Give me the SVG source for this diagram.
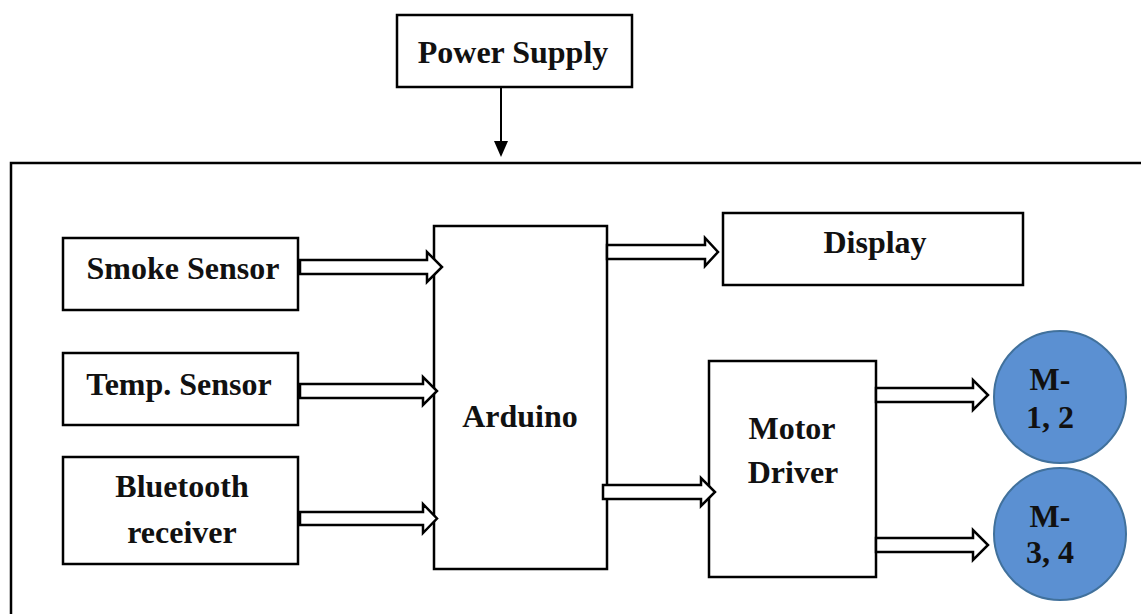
<svg xmlns="http://www.w3.org/2000/svg" width="1141" height="614" viewBox="0 0 1141 614">
  <style>
    .box { fill: #ffffff; stroke: #000000; stroke-width: 2.5; }
    .frame { fill: none; stroke: #000000; stroke-width: 2.5; }
    .lbl { font-family: "Liberation Serif", "Times New Roman", serif; font-weight: bold; font-size: 32px; fill: #111111; text-anchor: middle; }
    .motor { fill: #5B90D2; stroke: #41719C; stroke-width: 2; }
    .barrow { fill: #ffffff; stroke: #000000; stroke-width: 2.5; stroke-linejoin: miter; }
    .wire { stroke: #000000; stroke-width: 2; fill: none; }
  </style>
  <rect width="1141" height="614" fill="#ffffff"/>
  <g id="system-frame">
    <path class="frame" d="M 1145 163 L 11 163 L 11 620"/>
  </g>
  <g id="power-supply">
    <rect class="box" x="397" y="15" width="235" height="72"/>
    <text class="lbl" x="513" y="63">Power Supply</text>
  </g>
  <g id="smoke-sensor">
    <rect class="box" x="63" y="238" width="235" height="72"/>
    <text class="lbl" x="183" y="279">Smoke Sensor</text>
  </g>
  <g id="temp-sensor">
    <rect class="box" x="63" y="353" width="235" height="72"/>
    <text class="lbl" x="179" y="395">Temp. Sensor</text>
  </g>
  <g id="bluetooth-receiver">
    <rect class="box" x="63" y="457" width="235" height="107"/>
    <text class="lbl" x="182" y="497">Bluetooth</text>
    <text class="lbl" x="182" y="543">receiver</text>
  </g>
  <g id="arduino">
    <rect class="box" x="434" y="226" width="173" height="343"/>
    <text class="lbl" x="520" y="427">Arduino</text>
  </g>
  <g id="display">
    <rect class="box" x="723" y="213" width="300" height="72"/>
    <text class="lbl" x="875" y="253">Display</text>
  </g>
  <g id="motor-driver">
    <rect class="box" x="709" y="361" width="167" height="216"/>
    <text class="lbl" x="792" y="439">Motor</text>
    <text class="lbl" x="793" y="483">Driver</text>
  </g>
  <g id="motor-1-2">
    <circle class="motor" cx="1060" cy="397" r="66"/>
    <text class="lbl" x="1050" y="390">M-</text>
    <text class="lbl" x="1050" y="428">1, 2</text>
  </g>
  <g id="motor-3-4">
    <circle class="motor" cx="1060" cy="534" r="66"/>
    <text class="lbl" x="1050" y="527">M-</text>
    <text class="lbl" x="1050" y="563">3, 4</text>
  </g>
  <g id="connectors">
    <line class="wire" x1="501" y1="87" x2="501" y2="142"/>
    <polygon points="494,141 508,141 501,157" fill="#000000"/>
    <path class="barrow" d="M 300 260 L 427 260 L 427 252 L 442 267 L 427 282 L 427 274 L 300 274 Z"/>
    <path class="barrow" d="M 300 384 L 423 384 L 423 377 L 437 391 L 423 405 L 423 398 L 300 398 Z"/>
    <path class="barrow" d="M 300 512 L 423 512 L 423 504 L 437 518.5 L 423 533 L 423 525 L 300 525 Z"/>
    <path class="barrow" d="M 607 245 L 705 245 L 705 238 L 718 252 L 705 266 L 705 259 L 607 259 Z"/>
    <path class="barrow" d="M 603 485 L 701 485 L 701 478 L 715 492 L 701 506 L 701 499 L 603 499 Z"/>
    <path class="barrow" d="M 876 388 L 973 388 L 973 380 L 988 395 L 973 410 L 973 402 L 876 402 Z"/>
    <path class="barrow" d="M 876 538 L 973 538 L 973 530 L 988 545 L 973 560 L 973 552 L 876 552 Z"/>
  </g>
</svg>
